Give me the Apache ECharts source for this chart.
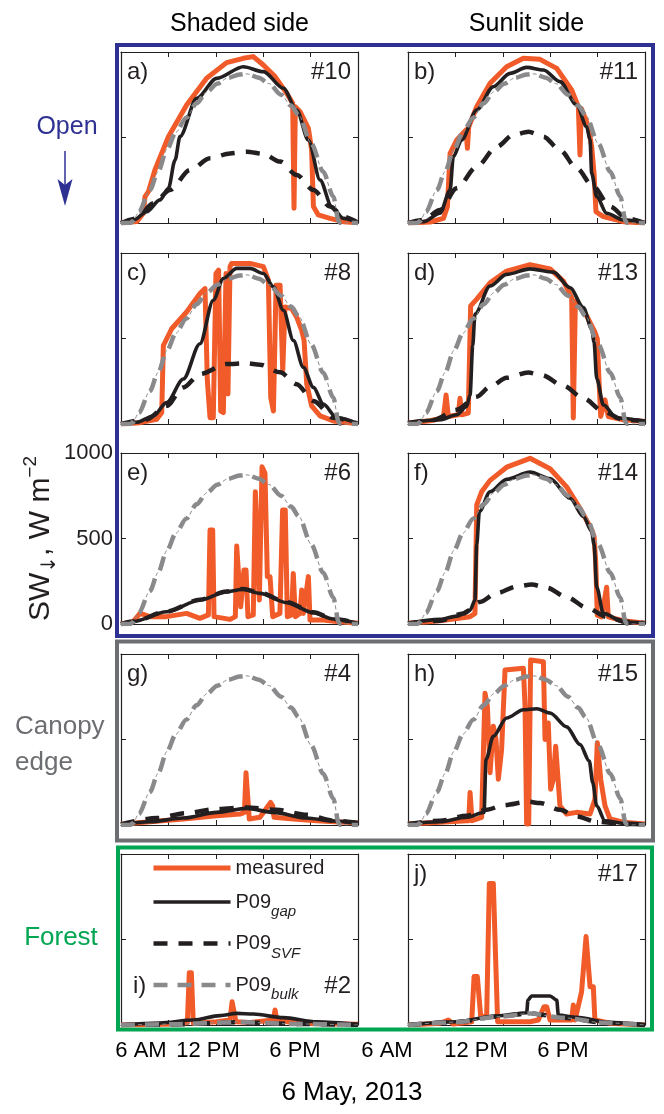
<!DOCTYPE html>
<html>
<head>
<meta charset="utf-8">
<script src="https://cdn.jsdelivr.net/npm/echarts@6/dist/echarts.min.js"></script>
<style>
  html, body { margin: 0; padding: 0; background: #fff; }
  #chart { width: 664px; height: 1114px; }
</style>
</head>
<body>
<div id="chart"></div>
<script>
// Downwelling shortwave radiation, 6 May 2013 — x in hours of the day, y in W m-2.

const timeLabels = ['6 AM', '12 PM', '6 PM'];
const xTicks = [4.5, 7.7, 10.9, 14.1, 17.3, 20.5];
const yTicks = [0, 500, 1000];

// Shared bulk-canopy model curve for the open and edge sites
const bulkOpen = [[4.5,0],[5.1,0],[5.3,10],[5.7,65],[6.45,193],[7.0,300],[7.6,430],[8.2,530],[8.9,615],[9.6,700],[10.3,768],[11.0,815],[11.7,848],[12.5,868],[13.0,872],[13.8,850],[14.5,815],[15.3,750],[16.0,685],[16.5,630],[17.35,465],[18.15,300],[18.83,155],[19.2,10],[19.3,0],[20.5,0]];

// a) #10
const measA = [[4.5,0],[5.56,8],[6.01,57],[6.12,154],[6.35,183],[6.79,310],[7.70,505],[8.93,690],[10.28,846],[11.63,938],[12.76,963],[13.43,973],[14.11,924],[14.90,856],[15.69,758],[16.09,700],[16.18,86],[16.27,680],[16.59,651],[17.15,554],[17.37,427],[17.49,96],[17.82,47],[18.61,27],[19.51,8],[20.5,2]];
const gapA = [[4.5,0],[5.33,16],[6.23,66],[7.13,135],[7.70,203],[8.15,368],[8.48,505],[9.61,729],[10.96,846],[12.76,914],[14.11,885],[15.46,788],[16.36,661],[17.15,485],[17.94,251],[18.72,96],[19.51,27],[20.5,2]];
const svfA = [[4.5,0],[5.56,27],[6.68,115],[7.81,193],[9.16,310],[10.51,378],[11.86,407],[12.99,417],[14.11,404],[15.24,359],[16.36,281],[17.49,193],[18.61,96],[19.51,37],[20.5,2]];

// b) #11
const measB = [[4.5,0],[5.99,6],[6.89,27],[7.16,96],[7.34,407],[7.79,485],[8.42,544],[8.51,437],[8.60,563],[9.14,680],[10.04,817],[11.16,914],[12.29,963],[13.41,957],[14.54,904],[15.55,778],[16.00,680],[16.11,398],[16.20,670],[16.68,563],[16.90,446],[17.06,290],[17.19,66],[17.69,37],[19.04,8],[20.5,0]];
const gapB = [[4.5,0],[5.54,8],[6.66,57],[7.34,193],[7.56,388],[8.12,485],[9.14,661],[10.26,797],[11.39,875],[12.51,910],[13.64,895],[14.76,827],[15.89,690],[16.56,563],[16.79,485],[16.90,290],[17.24,154],[17.91,57],[19.04,18],[20.5,0]];
const svfB = [[4.5,0],[5.54,18],[6.66,76],[7.79,203],[9.14,329],[10.49,446],[11.61,515],[12.63,534],[13.64,505],[14.76,427],[15.89,320],[17.01,212],[18.14,96],[19.27,27],[20.5,0]];

// c) #8
const measC = [[4.5,0],[5.78,8],[6.91,27],[7.25,67],[7.36,459],[7.92,557],[8.93,655],[9.83,763],[10.17,792],[10.33,253],[10.51,37],[10.73,37],[10.91,880],[11.09,900],[11.23,76],[11.41,67],[11.59,880],[11.72,175],[11.86,920],[11.97,939],[13.21,939],[14.11,920],[14.45,841],[14.61,155],[14.79,76],[14.97,812],[15.24,812],[15.42,312],[15.57,684],[16.02,675],[16.36,625],[16.70,547],[16.86,488],[17.04,233],[17.37,106],[17.94,47],[18.84,18],[20.5,2]];
const gapC = [[4.5,0],[5.56,10],[6.68,47],[7.58,125],[8.71,263],[9.83,469],[10.73,724],[11.41,851],[12.31,910],[13.21,910],[14.11,880],[14.79,802],[15.46,665],[16.14,488],[16.81,331],[17.49,214],[18.16,116],[19.06,37],[20.5,2]];
const svfC = [[4.5,0],[6.23,27],[7.58,106],[8.71,214],[9.83,292],[11.64,351],[12.99,355],[13.88,347],[15.24,302],[16.36,233],[17.49,135],[18.84,37],[20.5,2]];

// d) #13
const measD = [[4.5,6],[5.99,19],[6.89,35],[7.07,170],[7.22,44],[7.90,54],[8.01,151],[8.12,54],[8.57,64],[8.73,691],[9.14,730],[10.04,826],[11.16,894],[12.74,932],[14.09,907],[14.99,836],[15.55,739],[15.66,35],[15.80,720],[16.56,633],[17.12,537],[17.28,498],[17.39,266],[17.51,44],[17.80,141],[18.02,44],[19.04,25],[20.5,15]];
const gapD = [[4.5,6],[6.66,25],[7.79,54],[8.46,102],[8.69,170],[8.87,459],[9.02,643],[10.04,807],[11.16,875],[12.74,907],[14.31,888],[15.44,797],[16.34,681],[16.90,556],[17.06,479],[17.24,266],[17.69,112],[18.59,35],[20.5,15]];
const svfD = [[4.5,6],[6.21,23],[7.79,83],[9.14,160],[10.04,218],[11.16,270],[12.62,301],[13.52,286],[14.99,224],[16.34,151],[17.69,73],[19.04,25],[20.5,15]];

// e) #6
const measE = [[4.5,0],[5.33,14],[5.78,62],[6.46,43],[7.58,43],[8.93,62],[9.83,33],[10.40,53],[10.51,550],[10.69,550],[10.78,43],[11.86,27],[12.22,43],[12.31,456],[12.44,456],[12.58,101],[12.80,316],[12.94,316],[13.07,43],[13.43,53],[13.57,774],[13.70,774],[13.84,140],[14.02,920],[14.22,881],[14.38,277],[14.56,277],[14.74,43],[15.23,62],[15.41,667],[15.59,667],[15.73,43],[16.02,53],[16.13,296],[16.27,43],[16.58,62],[16.70,199],[16.81,62],[17.15,277],[17.26,23],[18.16,23],[19.06,14],[20.5,4]];
const gapE = [[4.5,0],[5.33,14],[7.58,72],[9.83,140],[11.63,189],[12.76,203],[13.88,179],[15.68,125],[17.48,66],[18.83,29],[20.5,4]];
const svfE = [[4.5,0],[5.33,14],[7.58,74],[9.83,142],[11.63,190],[12.76,205],[13.88,182],[15.68,128],[17.48,68],[18.83,30],[20.5,4]];

// f) #14
const measF = [[4.5,4],[6.66,19],[8.69,42],[9.02,62],[9.14,696],[9.47,773],[10.04,840],[11.16,917],[12.74,969],[14.09,908],[15.21,802],[16.11,677],[16.90,552],[17.06,513],[17.17,369],[17.28,52],[17.57,42],[17.91,215],[18.02,42],[19.04,19],[20.5,4]];
const gapF = [[4.5,4],[6.66,27],[7.79,46],[8.69,81],[9.02,138],[9.14,465],[9.32,658],[10.04,773],[11.16,846],[12.74,888],[14.09,850],[15.44,735],[16.34,629],[16.90,542],[17.06,465],[17.24,215],[17.69,62],[19.04,13],[20.5,4]];
const svfF = [[4.5,4],[6.66,19],[8.24,62],[9.36,129],[10.49,181],[11.84,219],[12.85,231],[13.86,212],[15.21,158],[16.56,96],[17.91,42],[19.26,13],[20.5,4]];

// g) #4
const measG = [[4.5,4],[6.46,19],[8.71,35],[10.96,54],[12.53,64],[12.83,74],[12.94,306],[13.07,306],[13.16,35],[13.88,45],[14.60,132],[14.74,112],[14.83,45],[16.13,35],[17.71,25],[20.5,12]];
const gapG = [[4.5,4],[6.46,19],[8.71,41],[10.96,74],[12.98,97],[14.78,74],[17.03,41],[18.83,23],[20.5,12]];
const svfG = [[4.5,4],[6.91,41],[8.93,70],[10.96,93],[12.98,103],[15.01,89],[17.03,60],[18.83,25],[20.5,12]];

// h) #15
const measH = [[4.5,6],[6.66,16],[8.46,25],[8.60,25],[8.69,190],[8.82,25],[9.47,45],[9.70,771],[9.86,694],[10.04,306],[10.26,578],[10.44,500],[10.60,267],[10.82,442],[11.05,907],[12.29,917],[12.40,694],[12.51,6],[12.65,6],[12.78,965],[13.64,955],[13.75,500],[13.97,597],[14.13,209],[14.31,267],[14.47,461],[14.60,461],[14.76,112],[15.21,64],[15.89,74],[16.79,64],[17.12,151],[17.28,481],[17.51,267],[17.80,112],[18.14,35],[19.04,16],[20.5,6]];
const gapH = [[4.5,6],[6.66,19],[8.46,45],[9.63,74],[9.77,384],[10.26,519],[11.16,626],[12.29,674],[13.19,680],[14.09,655],[15.21,574],[16.11,471],[16.74,374],[16.97,248],[17.24,112],[17.80,25],[19.04,10],[20.5,4]];
const svfH = [[4.5,6],[6.66,25],[8.46,54],[9.81,89],[10.94,116],[12.62,136],[13.41,128],[14.76,89],[15.89,50],[17.24,19],[19.04,6],[20.5,4]];

// i) #2
const measI = [[4.5,0],[8.26,6],[8.98,14],[9.11,306],[9.25,306],[9.38,10],[10.96,19],[11.86,29],[12.0,136],[12.13,136],[12.26,19],[13.21,14],[14.78,29],[14.9,88],[15.01,29],[16.36,10],[20.5,4]];
const gapI = [[4.5,0],[7.13,12],[9.38,29],[11.18,55],[12.31,68],[13.43,64],[15.46,43],[17.71,19],[20.5,4]];
const svfI = [[4.5,0],[8.26,4],[12.31,16],[16.36,6],[20.5,0]];
const bulkI = [[4.5,0],[8.26,5],[12.31,17],[16.36,6],[20.5,0]];

// j) #17
const measJ = [[4.5,0],[6.66,10],[7.22,29],[7.56,6],[8.80,19],[8.96,283],[9.18,283],[9.41,49],[9.81,49],[9.99,828],[10.26,828],[10.44,322],[10.55,19],[11.39,19],[12.74,19],[13.30,29],[13.68,107],[13.86,107],[14.09,29],[15.55,29],[15.66,117],[15.78,29],[16.22,195],[16.34,195],[16.52,517],[16.65,517],[16.79,224],[17.01,224],[17.12,29],[18.14,10],[20.5,0]];
const gapJ = [[4.5,0],[7.79,19],[10.49,53],[12.51,72],[12.60,146],[12.85,170],[14.09,170],[14.54,146],[14.65,58],[15.89,45],[18.14,14],[20.5,0]];
const svfJ = [[4.5,0],[7.79,18],[10.49,49],[12.74,68],[14.99,43],[17.69,14],[20.5,0]];
const bulkJ = [[4.5,0],[7.79,17],[10.49,48],[12.74,67],[14.99,42],[17.69,13],[20.5,0]];

const panelLetters = ['a)', 'b)', 'c)', 'd)', 'e)', 'f)', 'g)', 'h)', 'i)', 'j)'];
const siteIds = ['#10', '#11', '#8', '#13', '#6', '#14', '#4', '#15', '#2', '#17'];
const measured = [measA, measB, measC, measD, measE, measF, measG, measH, measI, measJ];
const gapModel = [gapA, gapB, gapC, gapD, gapE, gapF, gapG, gapH, gapI, gapJ];
const svfModel = [svfA, svfB, svfC, svfD, svfE, svfF, svfG, svfH, svfI, svfJ];
const bulkModel = [bulkOpen, bulkOpen, bulkOpen, bulkOpen, bulkOpen, bulkOpen, bulkOpen, bulkOpen, bulkI, bulkJ];

// ---- layout ----
const FONT = '"Liberation Sans", Arial, Helvetica, sans-serif';
const COL_LEFT = [121, 408];
const ROW_TOP = [52, 253, 453, 654, 854];
const PW = 237, PH = 171;
const INK = '#231f20';
const RED = '#f15a29';
const GRAY = '#8a8a8c';
const BLUE = '#2e3192';
const EDGE = '#6d6e71';
const GREEN = '#00a651';

const STYLE = {
  measured: { color: RED, width: 5, type: 'solid' },
  gap: { color: INK, width: 3.6, type: 'solid' },
  SVF: { color: INK, width: 4.5, type: [14, 11] },
  bulk: { color: GRAY, width: 4.5, type: [14, 10] }
};

const grids = [], xAxes = [], yAxes = [], series = [], graphics = [];

function axisBase() {
  return {
    axisLine: { show: true, onZero: false, lineStyle: { color: INK, width: 1.2 } },
    axisTick: { show: true, inside: true, length: 5, lineStyle: { color: INK, width: 1 } },
    splitLine: { show: false },
    axisLabel: { show: false }
  };
}

function lineSeries(name, p, data, smooth) {
  const s = STYLE[name];
  return {
    name: name, type: 'line', xAxisIndex: 2 * p, yAxisIndex: 2 * p,
    data: data, showSymbol: false, symbol: 'none',
    smooth: smooth ? 0.3 : false, smoothMonotone: 'x',
    lineStyle: { color: s.color, width: s.width, type: s.type, cap: 'butt', join: 'round' },
    itemStyle: { color: s.color }
  };
}

for (let p = 0; p < 10; p++) {
  const col = p % 2, row = Math.floor(p / 2);
  const left = COL_LEFT[col], top = ROW_TOP[row];
  grids.push({ left: left, top: top, width: PW, height: PH });

  ['bottom', 'top'].forEach(pos => {
    const ax = axisBase();
    ax.gridIndex = p; ax.type = 'value'; ax.position = pos;
    ax.min = xTicks[0]; ax.max = xTicks[xTicks.length - 1];
    ax.axisTick.customValues = xTicks;
    xAxes.push(ax);
  });
  ['left', 'right'].forEach(pos => {
    const ax = axisBase();
    ax.gridIndex = p; ax.type = 'value'; ax.position = pos;
    ax.min = yTicks[0]; ax.max = yTicks[yTicks.length - 1]; ax.interval = 500;
    if (p === 4 && pos === 'left') {
      ax.axisLabel = { show: true, fontSize: 22, color: INK, fontFamily: FONT, margin: 8,
        formatter: v => String(v) };
      ax.name = 'SW{sub|↓}, W m{sup|−2}';
      ax.nameLocation = 'middle';
      ax.nameRotate = 90;
      ax.nameGap = 60;
      ax.nameTextStyle = {
        fontSize: 30, color: INK, fontFamily: FONT,
        rich: {
          sub: { fontSize: 20, fontFamily: 'DejaVu Sans', color: INK, padding: [18, 0, 0, 0] },
          sup: { fontSize: 19, fontFamily: FONT, color: INK, padding: [0, 0, 20, 0] }
        }
      };
    }
    yAxes.push(ax);
  });

  // drawing order: measured, gap, SVF, bulk (bulk on top)
  const sm = lineSeries('measured', p, measured[p], false); sm.z = 2; series.push(sm);
  const sg = lineSeries('gap', p, gapModel[p], true); sg.z = 3; series.push(sg);
  const sv = lineSeries('SVF', p, svfModel[p], true); sv.z = 4; series.push(sv);
  const sb = lineSeries('bulk', p, bulkModel[p], true); sb.z = 5; series.push(sb);
  // thin dot between the bulk dashes (dash-dot line)
  series.push({
    name: 'bulkDot', type: 'line', xAxisIndex: 2 * p, yAxisIndex: 2 * p,
    data: bulkModel[p], showSymbol: false, symbol: 'none', smooth: 0.3, smoothMonotone: 'x',
    lineStyle: { color: GRAY, width: 1, type: [4, 20], dashOffset: 7, cap: 'butt' }, z: 5, silent: true
  });

  // panel letter and site number
  const bottomTags = (p === 8);
  const ty = bottomTags ? 986 : top + 20;
  graphics.push({ type: 'text', x: left + (bottomTags ? 12 : 6), y: ty,
    style: { text: panelLetters[p], font: '24px ' + FONT, fill: INK, align: 'left', verticalAlign: 'middle' }, z: 20 });
  graphics.push({ type: 'text', x: left + PW - 7, y: ty,
    style: { text: siteIds[p], font: '24px ' + FONT, fill: INK, align: 'right', verticalAlign: 'middle' }, z: 20 });
}

// frames grouping the site classes
function frame(x1, y1, x2, y2, color) {
  graphics.push({ type: 'rect', shape: { x: x1, y: y1, width: x2 - x1, height: y2 - y1 },
    style: { fill: 'none', stroke: color, lineWidth: 4 }, z: 1 });
}
frame(117, 45, 653, 636, BLUE);
frame(117, 641.5, 653, 840.5, EDGE);
frame(118, 847.5, 652, 1029.5, GREEN);

// column titles
graphics.push({ type: 'text', x: 239.5, y: 24, style: { text: 'Shaded side', font: '25px ' + FONT, fill: '#000', align: 'center', verticalAlign: 'middle' } });
graphics.push({ type: 'text', x: 526.5, y: 24, style: { text: 'Sunlit side', font: '25px ' + FONT, fill: '#000', align: 'center', verticalAlign: 'middle' } });

// site class labels
graphics.push({ type: 'text', x: 67, y: 127, style: { text: 'Open', font: '25px ' + FONT, fill: BLUE, align: 'center', verticalAlign: 'middle' } });
graphics.push({ type: 'line', shape: { x1: 65, y1: 151, x2: 65, y2: 186 }, style: { stroke: BLUE, lineWidth: 1.5 } });
graphics.push({ type: 'polygon', shape: { points: [[57.5, 179], [65, 206], [72.5, 179], [65, 185]] }, style: { fill: BLUE } });
graphics.push({ type: 'text', x: 15, y: 727, style: { text: 'Canopy', font: '26px ' + FONT, fill: EDGE, align: 'left', verticalAlign: 'middle' } });
graphics.push({ type: 'text', x: 15, y: 763, style: { text: 'edge', font: '26px ' + FONT, fill: EDGE, align: 'left', verticalAlign: 'middle' } });
graphics.push({ type: 'text', x: 61, y: 938, style: { text: 'Forest', font: '26px ' + FONT, fill: GREEN, align: 'center', verticalAlign: 'middle' } });

// time-of-day labels under each column
const labelX = [[141, 208, 295], [387, 476, 563]];
labelX.forEach(xs => xs.forEach((x, k) => {
  graphics.push({ type: 'text', x: x, y: 1051, style: { text: timeLabels[k], font: '22px ' + FONT, fill: '#000', align: 'center', verticalAlign: 'middle' } });
}));
graphics.push({ type: 'text', x: 352, y: 1093, style: { text: '6 May, 2013', font: '26px ' + FONT, fill: '#000', align: 'center', verticalAlign: 'middle' } });

const legendSub = { gap: 'gap', SVF: 'SVF', bulk: 'bulk' };
const legendNames = ['measured', 'gap', 'SVF', 'bulk'];

const option = {
  animation: false,
  backgroundColor: '#fff',
  grid: grids,
  xAxis: xAxes,
  yAxis: yAxes,
  series: series,
  legend: {
    data: legendNames.map(n => ({
      name: n,
      lineStyle: { width: STYLE[n].width, type: STYLE[n].type, color: STYLE[n].color, cap: 'butt' }
    })),
    orient: 'vertical',
    left: 146, top: 853,
    itemWidth: 77, itemHeight: 14, itemGap: 14,
    selectedMode: false,
    itemStyle: { opacity: 0 },
    textStyle: {
      fontSize: 20, color: INK, fontFamily: FONT,
      rich: {
        s: { fontSize: 15, fontStyle: 'italic', fontFamily: FONT, color: INK, padding: [20, 0, 0, 0] }
      }
    },
    formatter: name => name === 'measured' ? 'measured' : 'P09{s|' + legendSub[name] + '}'
  },
  graphic: graphics
};

const chart = echarts.init(document.getElementById('chart'), null, { renderer: 'canvas' });
chart.setOption(option);
</script>
</body>
</html>
